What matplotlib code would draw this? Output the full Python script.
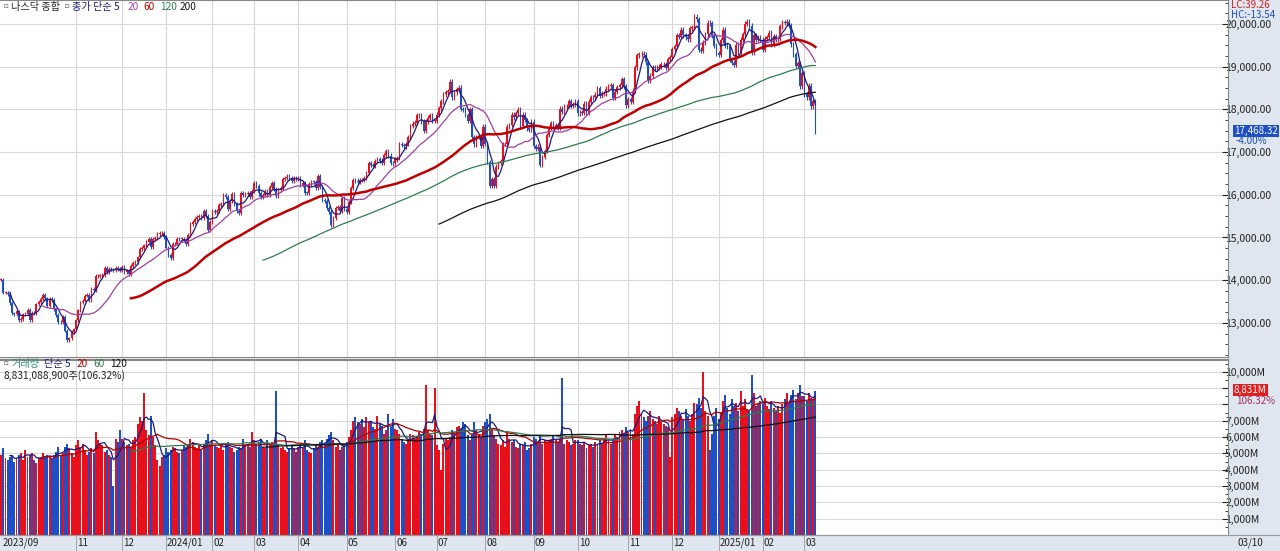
import numpy as np
import matplotlib
matplotlib.use("Agg")
import matplotlib.pyplot as plt
from matplotlib.ticker import MultipleLocator

plt.rcParams['font.family'] = ['Noto Sans CJK KR', 'DejaVu Sans']

month_labels = ["2023/09", "", "11", "12", "2024/01", "02", "03", "04", "05", "06", "07", "08",
                "09", "10", "11", "12", "2025/01", "02", "03"]
month_counts = [12, 22, 21, 20, 21, 19, 20, 22, 22, 19, 22, 22, 20, 23, 20, 21, 20, 19, 6]

closes = [
 14016,13708,13710,13678,13469,13223,13212,13271,13063,13092,13201,13219,
 13307,13059,13236,13220,13431,13484,13562,13659,13574,13407,13567,13534,13314,13186,13019,13018,13139,12821,12595,12643,12789,12851,
 13061,13294,13478,13518,13639,13650,13521,13798,13768,14094,14104,14113,14125,14284,14199,14265,14250,14241,14281,14258,14226,
 14305,14185,14229,14146,14339,14404,14432,14533,14734,14761,14813,14905,14963,14778,14964,14992,15074,15095,15099,15011,
 14765,14592,14524,14844,14857,14970,14969,14973,14944,14855,15055,15311,15360,15425,15482,15510,15455,15628,15510,15164,15361,
 15629,15597,15609,15756,15794,15990,15943,15656,15860,16007,15775,15630,15580,16041,15997,16028,16036,15948,16092,
 16275,16207,16031,15940,15993,16085,15995,16177,16265,16129,15973,16103,16166,16369,16401,16428,16384,16316,16385,16379,
 16396,16240,16277,16050,16049,16253,16307,16306,16170,16442,16175,15885,15865,15683,15601,15282,15451,15697,15712,15611,15928,15658,
 15605,15840,16156,16349,16333,16302,16346,16340,16388,16511,16742,16698,16685,16795,16833,16802,16737,16921,17019,16920,16737,16735,
 16828,16857,17187,17173,17133,17193,17343,17608,17667,17689,17857,17863,17721,17496,17718,17805,17858,17733,17733,
 17879,18028,18188,18352,18403,18429,18647,18283,18398,18472,18509,18010,17996,17871,17727,18007,17342,17182,17357,17370,17147,17599,
 17194,16776,16200,16366,16196,16660,16745,16780,17187,17192,17594,17631,17876,17816,17918,17997,17619,17877,17754,17556,17516,17714,
 17136,17084,17128,16690,16885,17026,17395,17570,17683,17592,17628,17573,18014,17948,18075,18082,18190,18082,18119,18189,
 17910,17925,17918,18138,17924,18182,18292,18283,18342,18503,18315,18367,18374,18489,18540,18573,18276,18415,18518,18567,18712,18540,18095,
 18239,18180,18439,18983,19269,19287,19299,19282,19107,18680,18791,18987,18966,18972,19003,19054,19060,18968,19175,19218,
 19403,19480,19735,19701,19860,19736,19687,19643,19902,19926,20173,20109,19393,19372,19573,19764,20031,20020,19722,19486,19311,
 19281,19622,19864,19489,19479,19162,19088,19044,19511,19338,19630,19757,20009,20054,19954,19342,19734,19633,19681,19627,
 19392,19654,19692,19791,19523,19714,19643,19650,19945,20027,20026,20056,19962,19524,19286,19026,19075,18544,18847,
 18350,18285,18553,18069,18196,17468]

volumes = [
 4900,5300,4700,4600,4800,4900,4500,4700,4900,5000,4600,5200,
 4800,4900,5000,4600,4400,4700,4800,5000,4700,4900,4800,4700,4900,5100,5400,4900,5000,5400,5600,5300,5000,4800,
 5500,5800,5400,5600,5200,4900,5100,5300,5000,6300,5800,5600,5500,5100,5200,4900,4800,3000,5900,5700,6400,
 5900,5700,5500,5600,5400,5800,6000,6800,7200,7000,8700,6400,6100,7300,6000,5500,4600,4200,4800,4900,
 5300,5100,5200,5400,5300,5100,5000,5200,5500,5400,5600,5900,5700,5400,5300,5500,5200,5600,5800,6200,5600,
 5800,5500,5400,5300,5600,5200,5500,5700,5400,5300,5100,5200,5400,5300,5900,5500,5600,5400,6300,
 5800,5600,5700,5900,5400,5300,5800,5600,5700,5500,8800,5500,5300,5400,5200,5100,5300,5500,5300,5100,
 5400,5600,5300,5800,5200,5100,5000,5300,5600,5400,5700,5800,5600,5900,6100,6300,5800,5400,5500,5200,5400,5600,
 5700,6000,6400,7000,7200,6900,6800,7100,6600,7200,6900,7000,6600,6500,7300,6800,6700,6200,6400,7400,6600,7100,
 6500,6400,6200,5900,5700,5600,5800,6200,6100,5900,6000,6300,6200,6500,9200,6400,6200,6100,9000,
 5500,5200,4000,5600,5900,5800,6000,6400,6300,6600,6700,6500,6900,6800,6100,5800,6200,6900,6400,6200,6000,6700,
 6900,7100,7400,6500,6100,5900,5600,5500,5800,5400,6300,5900,5700,5800,5400,5300,5600,5500,5700,5200,5300,5600,
 6000,5900,5700,6100,5600,5800,5700,5800,5900,6100,5800,5700,5900,9600,5600,5800,5700,5500,5600,5800,
 5800,5600,5500,5700,5300,5500,5600,5400,5700,5500,5800,5600,5900,6100,5800,5600,5900,6100,6000,6300,6400,6200,6600,
 6300,6500,6200,7400,7900,8200,7500,7200,7000,7300,7600,7100,7000,6800,7300,6900,6800,6700,6600,4800,
 7200,7400,7800,7600,7300,7100,7700,7300,7000,7400,8100,8000,8400,7800,10000,7600,7300,5200,6200,7300,7800,
 7100,7500,8200,8600,7800,7400,8300,7900,8100,7600,8800,7900,8300,7700,7600,9800,8700,7900,8000,8200,
 8100,8400,7900,7700,8200,7800,7600,7900,7500,8000,8300,8700,8100,8600,8900,8300,8700,9200,8500,
 8500,8200,8700,8400,8306,8831]

n = min(len(closes), len(volumes))
c = np.array(closes[:n], float)
v = np.array(volumes[:n], float)
o = np.concatenate([[c[0]], c[:-1]])
hi = np.maximum(o, c) * 1.003
lo = np.minimum(o, c) * 0.997
x = np.arange(n)
up = c >= o
RED, BLUE = '#e8101c', '#1f4fc4'
cols = np.where(up, RED, BLUE)

def sma(a, w):
    out = np.full(len(a), np.nan)
    cs = np.cumsum(np.insert(a, 0, 0))
    out[w-1:] = (cs[w:] - cs[:-w]) / w
    return out

fig = plt.figure(figsize=(12.8, 5.51), dpi=100)
W = 1228 / 1280
axp = fig.add_axes([0, (551-357)/551, W, 357/551])
axv = fig.add_axes([0, 16/551, W, (535-360)/551])
XL = (-0.5, 557.5)
month_starts = np.cumsum([0] + month_counts[:-1])
grid_ticks = [m for m, l in zip(month_starts, month_labels) if l and m > 0]

for ax in (axp, axv):
    ax.set_xlim(*XL)
    ax.yaxis.tick_right()
    ax.tick_params(axis='y', direction='in', length=4, labelsize=7.5, pad=-2, colors='#222', labelcolor='#222')
    ax.set_xticks(grid_ticks)
    ax.tick_params(axis='x', length=0, labelbottom=False)
    ax.grid(True, color='#d8d8d8', lw=0.8)
    ax.set_axisbelow(True)
    for s in ax.spines.values():
        s.set_color('#888')
        s.set_linewidth(0.8)
    ax.spines['left'].set_visible(False)

# price
axp.vlines(x, lo, hi, colors=cols, lw=0.8)
body = np.maximum(np.abs(c - o), 12)
axp.bar(x, body, bottom=np.minimum(o, c), width=0.75, color=cols, lw=0)
for w, col, lw in [(5, '#1a1a80', 0.9), (20, '#a040a0', 0.9), (60, '#c00000', 1.8), (120, '#2e7d4f', 0.9), (200, '#111111', 0.9)]:
    axp.plot(x, sma(c, w), color=col, lw=lw)
axp.set_ylim(12201, 20562)
pt = np.arange(13000, 20001, 1000)
axp.set_yticks(pt)
axp.set_yticklabels([f"{t:,.2f}" for t in pt])
axp.yaxis.set_minor_locator(MultipleLocator(250))
axp.tick_params(axis='y', which='minor', direction='in', length=2, colors='#222')

# volume
axv.bar(x, v, width=0.9, color=cols, lw=0)
for w, col in [(5, '#1a1a80'), (20, '#b00000'), (60, '#2e7d4f'), (120, '#111111')]:
    axv.plot(x, sma(v, w), color=col, lw=0.9)
axv.set_ylim(0, 10716)
vt = np.arange(1000, 10001, 1000)
axv.set_yticks(vt)
axv.set_yticklabels([("" if t in (8000, 9000) else f"{t:,}M") for t in vt])
axv.yaxis.set_minor_locator(MultipleLocator(500))
axv.tick_params(axis='y', which='minor', direction='in', length=2, colors='#222')

# right panel background
fig.patches.append(plt.Rectangle((W, 0), 1 - W, 1, transform=fig.transFigure, color='#dfe6ef', zorder=-1))
fig.patches.append(plt.Rectangle((0, 0), 1, 16/551, transform=fig.transFigure, color='#dfe6ef', zorder=-1))
fig.add_artist(plt.Line2D([0, 1], [16/551, 16/551], color='#999', lw=0.8))
fig.add_artist(plt.Line2D([0, W], [(551-358.5)/551]*2, color='#888', lw=1.0))

def fx(xv):
    return (xv - XL[0]) / (XL[1] - XL[0]) * W
for m, l in zip(month_starts, month_labels):
    if l:
        xx = fx(m) if m > 0 else 2/1280
        fig.text(xx + 1/1280, 8/551, l, fontsize=7, va='center', ha='left', color='#222')
        if m > 0:
            fig.add_artist(plt.Line2D([fx(m)]*2, [0, 16/551], color='#999', lw=0.6))
fig.text(1237/1280, 8/551, "03/10", fontsize=7, va='center', color='#222')

def px(xp, yp):
    return xp/1280, 1 - yp/551

fs = 7.3
fig.text(*px(3, 7), "ㅁ", fontsize=5, va='center', color='#777')
fig.text(*px(11, 7), "나스닥 종합", fontsize=fs, va='center', color='#222')
fig.text(*px(64, 7), "ㅁ", fontsize=5, va='center', color='#777')
fig.text(*px(72, 7), "종가 단순 5", fontsize=fs, va='center', color='#1a1a80')
fig.text(*px(128, 7), "20", fontsize=fs, va='center', color='#a040a0')
fig.text(*px(143, 7), "60", fontsize=fs, va='center', color='#b00000')
fig.text(*px(160, 7), "120", fontsize=fs, va='center', color='#2e7d4f')
fig.text(*px(180, 7), "200", fontsize=fs, va='center', color='#111')

fig.text(*px(3, 364), "ㅁ", fontsize=5, va='center', color='#777')
fig.text(*px(12, 364), "거래량", fontsize=fs, va='center', color='#2e8b70')
fig.text(*px(44, 364), "단순 5", fontsize=fs, va='center', color='#1a1a80')
fig.text(*px(77, 364), "20", fontsize=fs, va='center', color='#b00000')
fig.text(*px(93, 364), "60", fontsize=fs, va='center', color='#2e7d4f')
fig.text(*px(110, 364), "120", fontsize=fs, va='center', color='#111')
fig.text(*px(4, 376), "8,831,088,900주(106.32%)", fontsize=fs, va='center', color='#222')

fig.text(*px(1231, 5), "LC:39.26", fontsize=7, va='center', color='#d02020')
fig.text(*px(1231, 15), "HC:-13.54", fontsize=7, va='center', color='#2050b0')
fig.text(*px(1234, 131), "17,468.32", fontsize=7, va='center', color='white',
         bbox=dict(boxstyle='square,pad=0.1', fc='#1f4fc4', ec='none'))
fig.text(*px(1236, 141), "-4.00%", fontsize=7, va='center', color='#2050b0')
fig.text(*px(1234, 390), "8,831M", fontsize=7, va='center', color='white',
         bbox=dict(boxstyle='square,pad=0.1', fc='#e02020', ec='none'))
fig.text(*px(1236, 401), "106.32%", fontsize=7, va='center', color='#a03060')

fig.savefig("out.png", dpi=100)
